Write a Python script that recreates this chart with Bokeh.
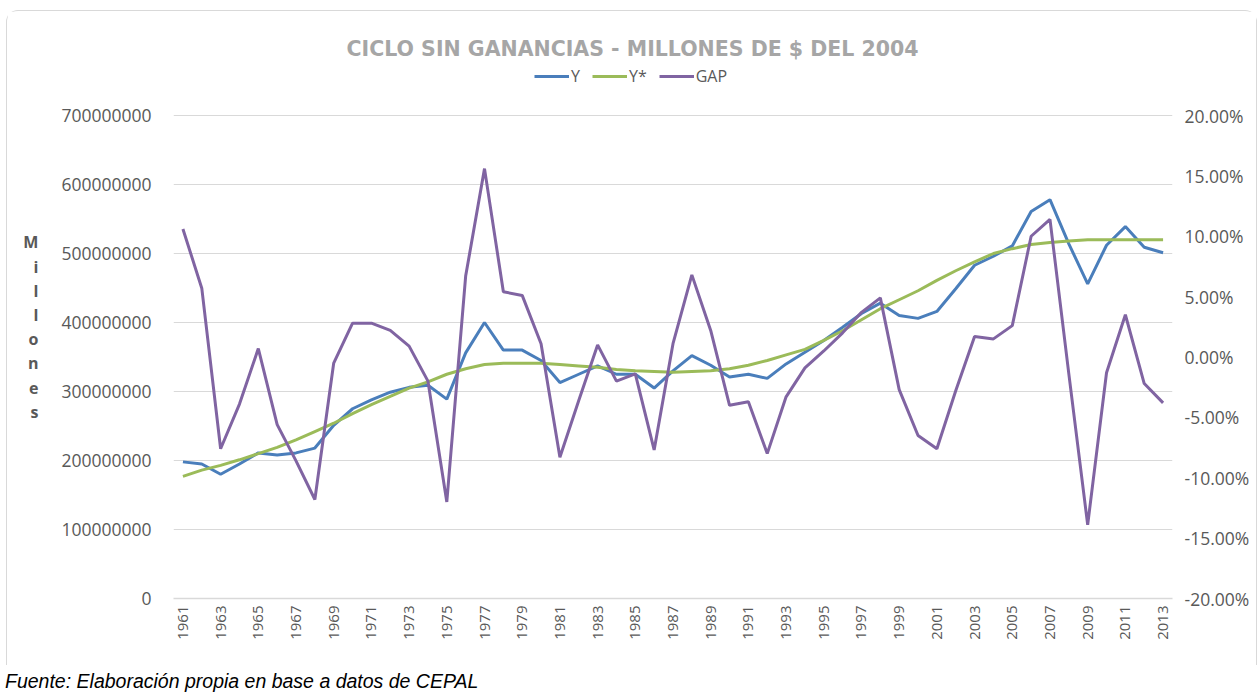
from bokeh.plotting import figure
from bokeh.models import (Range1d, LinearAxis, FixedTicker, NumeralTickFormatter,
                          Label, Legend, LegendItem, Div)
from bokeh.layouts import column
from bokeh.embed import file_html
from bokeh.resources import INLINE
import math

years = list(range(1961, 2014))

# Y (millones de $ del 2004)
y_mill = [198, 195, 180, 195, 211, 208, 211, 218, 251, 275,
          288, 299, 306, 309, 289, 356, 400, 360, 360, 345,
          313, 325, 337, 325, 325, 305, 330, 352, 338, 321,
          325, 319, 340, 357, 374, 393, 413, 428, 410, 406,
          416, 449, 483, 496, 511, 561, 578, 514, 456, 512,
          539, 509, 501]

# Y* trend
ystar_mill = [177, 186, 193, 201, 210, 219, 230, 242, 254, 268,
              281, 293, 305, 314, 325, 333, 339, 341, 341, 341,
              339, 337, 335, 332, 330, 329, 328, 329, 330, 333,
              338, 345, 353, 361, 374, 388, 404, 420, 433, 446,
              461, 475, 488, 500, 507, 513, 516, 518, 520, 520,
              520, 520, 520]

# GAP (%)
gap_pct = [10.6, 5.7, -7.6, -3.9, 0.7, -5.6, -8.6, -11.8, -0.5, 2.8,
           2.8, 2.2, 0.9, -2.0, -12.0, 6.7, 15.6, 5.4, 5.1, 1.1,
           -8.3, -3.6, 1.0, -2.0, -1.4, -7.7, 1.1, 6.8, 2.2, -4.0,
           -3.7, -8.0, -3.3, -0.9, 0.5, 2.0, 3.7, 4.9, -2.7, -6.5,
           -7.6, -2.8, 1.7, 1.5, 2.6, 10.0, 11.4, -1.4, -13.9, -1.3,
           3.5, -2.2, -3.8]

left_ticks = [0, 100000000, 200000000, 300000000, 400000000, 500000000, 600000000, 700000000]
right_ticks = [-0.20, -0.15, -0.10, -0.05, 0.0, 0.05, 0.10, 0.15, 0.20]
x_ticks = list(range(1961, 2014, 2))

title_text = "CICLO SIN GANANCIAS - MILLONES DE $ DEL 2004"
ytitle_text = "Millones"
footer_text = "Fuente: Elaboración propia en base a datos de CEPAL"

Y = [v * 1e6 for v in y_mill]
YS = [v * 1e6 for v in ystar_mill]
GAP = [v / 100.0 for v in gap_pct]

FONT = "Open Sans"
GREY = "#595959"

# layout geometry (page px): frame 172..1171 x, 30..597 y; 700M / 20% at y=114
FIG_X, FIG_Y = 6, 10
FRAME_L, FRAME_R, FRAME_T, FRAME_B = 172, 1171, 30, 597
AX_TOP = 114
fig_w, fig_h = 1251, 655
lt = 700e6 * (FRAME_B - FRAME_T) / (FRAME_B - AX_TOP)
rt = -0.20 + 0.40 * (FRAME_B - FRAME_T) / (FRAME_B - AX_TOP)

p = figure(width=fig_w, height=fig_h, output_backend="svg", toolbar_location=None,
           x_range=Range1d(1960.5, 2013.5), y_range=Range1d(0, lt),
           min_border_left=FRAME_L - FIG_X, min_border_right=FIG_X + fig_w - FRAME_R,
           min_border_top=FRAME_T - FIG_Y, min_border_bottom=FIG_Y + fig_h - FRAME_B,
           margin=(FIG_Y, 0, 0, FIG_X))
p.styles = {"border": "1px solid #d9d9d9", "border-bottom": "none",
            "border-radius": "12px 12px 0 0"}
p.extra_y_ranges = {"gap": Range1d(-0.20, rt)}
p.outline_line_color = None
p.background_fill_color = "white"
p.border_fill_color = "white"

# axes
p.xaxis.ticker = FixedTicker(ticks=x_ticks)
p.xaxis.major_label_orientation = math.pi / 2
p.xaxis.major_tick_line_color = None
p.xaxis.minor_tick_line_color = None
p.xaxis.axis_line_color = "#d9d9d9"
p.xaxis.axis_line_width = 1.5
p.xaxis.major_label_text_font = FONT
p.xaxis.major_label_text_font_size = "15px"
p.xaxis.major_label_text_color = GREY
p.xaxis.major_label_standoff = 1

p.yaxis.ticker = FixedTicker(ticks=left_ticks)
p.yaxis.formatter = NumeralTickFormatter(format="0")
p.yaxis.major_tick_line_color = None
p.yaxis.minor_tick_line_color = None
p.yaxis.axis_line_color = None
p.yaxis.major_label_text_font = FONT
p.yaxis.major_label_text_font_size = "17.5px"
p.yaxis.major_label_text_color = GREY
p.yaxis.major_label_standoff = 16
p.yaxis.axis_label = "\n" + "\n".join(ytitle_text)
p.yaxis.axis_label_orientation = "horizontal"
p.yaxis.axis_label_text_font = FONT
p.yaxis.axis_label_text_font_style = "bold"
p.yaxis.axis_label_text_font_size = "16px"
p.yaxis.axis_label_text_color = GREY
p.yaxis.axis_label_text_line_height = 1.1
p.yaxis.axis_label_standoff = 20

raxis = LinearAxis(y_range_name="gap", ticker=FixedTicker(ticks=right_ticks),
                   formatter=NumeralTickFormatter(format="0.00%"))
raxis.major_tick_line_color = None
raxis.minor_tick_line_color = None
raxis.axis_line_color = None
raxis.major_label_text_font = FONT
raxis.major_label_text_font_size = "17.5px"
raxis.major_label_text_color = GREY
raxis.major_label_standoff = 6
p.add_layout(raxis, "right")

p.xgrid.grid_line_color = None
p.ygrid.grid_line_color = "#d9d9d9"
p.ygrid.grid_line_width = 1

# lines
r_y = p.line(years, Y, line_color="#4a7ebb", line_width=3)
r_ys = p.line(years, YS, line_color="#9bbb59", line_width=3)
r_gap = p.line(years, GAP, line_color="#8064a2", line_width=3, y_range_name="gap")

legend = Legend(items=[LegendItem(label="Y", renderers=[r_y]),
                       LegendItem(label="Y*", renderers=[r_ys]),
                       LegendItem(label="GAP", renderers=[r_gap])],
                orientation="horizontal", location=(533 - FRAME_L, FRAME_B - 86),
                glyph_width=35, glyph_height=22, label_height=22, label_width=0,
                label_standoff=2, spacing=12, padding=0, margin=0,
                border_line_color=None, background_fill_alpha=0,
                label_text_font=FONT, label_text_font_size="16px",
                label_text_color=GREY)
p.add_layout(legend, "center")

# title (inside the extended frame)
p.add_layout(Label(x=631 - FRAME_L, y=FRAME_B - 47, x_units="screen", y_units="screen",
                   text=title_text, text_align="center", text_baseline="middle",
                   text_font="DejaVu Sans", text_font_style="bold",
                   text_font_size="20.5px", text_color="#a6a6a6"))

footer = Div(text=footer_text, width=600, height=22, margin=(5, 0, 0, 5),
             styles={"font-family": "Liberation Sans", "font-style": "italic",
                     "font-size": "19.5px", "color": "black", "line-height": "22px",
                     "white-space": "nowrap"})

layout = column(p, footer, spacing=0)
open("out.html", "w").write(file_html(layout, INLINE))
